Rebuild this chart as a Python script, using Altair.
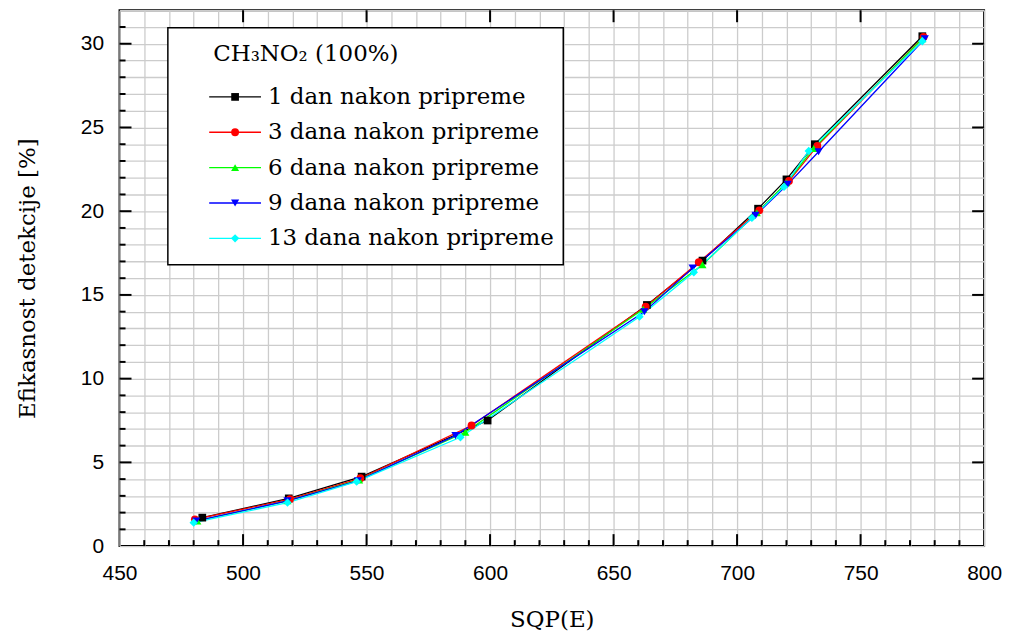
import altair as alt
import pandas as pd

series_names = ["1 dan nakon pripreme", "3 dana nakon pripreme", "6 dana nakon pripreme",
                "9 dana nakon pripreme", "13 dana nakon pripreme"]
series_colors = ["#000000", "#ff0000", "#00ff00", "#0000ff", "#00ffff"]
series_shapes = ["square", "circle", "triangle-up", "triangle-down", "diamond"]
series_sizes = [60, 70, 70, 70, 95]

x_1 = [483.5, 518.5, 548, 599, 663.5, 686, 708.5, 720, 731.5, 775]
y_1 = [1.7, 2.85, 4.15, 7.5, 14.4, 17.05, 20.15, 21.9, 24.0, 30.45]
x_3 = [480.5, 519, 547.5, 592.5, 663, 684.5, 709, 721, 732.5, 775.5]
y_3 = [1.6, 2.8, 4.05, 7.2, 14.3, 16.95, 20.05, 21.8, 23.9, 30.4]
x_6 = [481.5, 518, 547, 590, 662, 686, 708, 720, 731, 775]
y_6 = [1.5, 2.7, 3.95, 6.8, 14.15, 16.8, 19.9, 21.7, 23.75, 30.3]
x_9 = [481, 518, 546.5, 586, 662.5, 682, 707.5, 720.5, 733, 776]
y_9 = [1.5, 2.7, 3.9, 6.6, 14.0, 16.6, 19.75, 21.6, 23.55, 30.3]
x_13 = [480, 518, 546, 588, 660.5, 682.5, 706, 719, 729, 775]
y_13 = [1.4, 2.6, 3.85, 6.5, 13.7, 16.35, 19.6, 21.45, 23.6, 30.15]

x_grid = list(range(450, 801, 10))
y_grid = list(range(0, 33, 1))
x_ticks_minor = list(range(460, 800, 10))
x_ticks_major = [500, 550, 600, 650, 700, 750]
y_ticks_minor = list(range(1, 32))
y_ticks_major = [5, 10, 15, 20, 25, 30]

legend_title = "CH₃NO₂ (100%)"
x_title = "SQP(E)"
y_title = "Efikasnost detekcije [%]"

W, H = 868, 538
SERIF = "DejaVu Serif"

rows = []
for name, xs, ys in zip(series_names, [x_1, x_3, x_6, x_9, x_13], [y_1, y_3, y_6, y_9, y_13]):
    for i, (a, b) in enumerate(zip(xs, ys)):
        rows.append({"series": name, "x": a, "y": b, "i": i})
df = pd.DataFrame(rows)

xscale = alt.Scale(domain=[450, 800], nice=False, zero=False)
yscale = alt.Scale(domain=[0, 32], nice=False, zero=False)
cscale = alt.Scale(domain=series_names, range=series_colors)
sscale = alt.Scale(domain=series_names, range=series_shapes)
zscale = alt.Scale(domain=series_names, range=series_sizes)

xaxis = alt.Axis(values=x_grid,
                 labelExpr="datum.value % 50 == 0 ? datum.label : ''",
                 labelOverlap=False, labelFlush=False, labelBound=False,
                 ticks=False, domain=False, grid=True, labelPadding=17,
                 title=x_title, titleFont=SERIF, titleFontSize=23, titleFontWeight="normal",
                 titleX=W / 2, titleY=74, titleBaseline="middle", titleAlign="center")
yaxis = alt.Axis(values=y_grid,
                 labelExpr="datum.value % 5 == 0 ? datum.label : ''",
                 labelOverlap=False, labelFlush=False, labelBound=False,
                 ticks=False, domain=False, grid=True, labelPadding=16,
                 title=y_title, titleFont=SERIF, titleFontSize=23, titleFontWeight="normal",
                 titleX=-92, titleY=H / 2, titleAngle=270, titleBaseline="middle",
                 titleAlign="center")

lines = alt.Chart(df).mark_line(strokeWidth=1.3).encode(
    x=alt.X("x:Q", scale=xscale, axis=xaxis),
    y=alt.Y("y:Q", scale=yscale, axis=yaxis),
    color=alt.Color("series:N", scale=cscale, legend=None),
    order="i:Q",
)
points = alt.Chart(df).mark_point(filled=True, opacity=1).encode(
    x=alt.X("x:Q", scale=xscale, axis=xaxis),
    y=alt.Y("y:Q", scale=yscale, axis=yaxis),
    color=alt.Color("series:N", scale=cscale, legend=None),
    shape=alt.Shape("series:N", scale=sscale, legend=None),
    size=alt.Size("series:N", scale=zscale, legend=None),
)

# inward ticks
def xticks(vals, y0, y1):
    return alt.Chart(pd.DataFrame({"x": vals})).mark_rule(color="black", strokeWidth=2).encode(
        x=alt.X("x:Q", scale=xscale, axis=xaxis), y=alt.value(y0), y2=alt.value(y1))

def yticks(vals, x0, x1):
    return alt.Chart(pd.DataFrame({"y": vals})).mark_rule(color="black", strokeWidth=2).encode(
        y=alt.Y("y:Q", scale=yscale, axis=yaxis), x=alt.value(x0), x2=alt.value(x1))

tick_layers = [
    xticks([v for v in x_ticks_minor if v % 50], H, H - 6),
    xticks(x_ticks_major, H, H - 12),
    xticks(x_ticks_major, 0, 12),
    yticks([v for v in y_ticks_minor if v % 5], 0, 6),
    yticks(y_ticks_major, 0, 12),
    yticks(y_ticks_major, W, W - 12),
]

# legend
box = alt.Chart(pd.DataFrame({"a": [0]})).mark_rect(
    fill="white", stroke="black", strokeWidth=1.5).encode(
    x=alt.value(48.5), x2=alt.value(445.5), y=alt.value(17.5), y2=alt.value(255.5))
ltitle = alt.Chart(pd.DataFrame({"t": [legend_title]})).mark_text(
    font=SERIF, fontSize=23, align="left", baseline="middle", color="black").encode(
    text="t:N", x=alt.value(94), y=alt.value(44))

row_y = [87 + 35.5 * k for k in range(len(series_names))]
ldf = pd.DataFrame({"series": series_names, "ly": row_y,
                    "lx0": [90] * 5, "lx1": [142] * 5, "lm": [116] * 5, "lt": [149] * 5})
lrules = alt.Chart(ldf).mark_rule(strokeWidth=1.3).encode(
    x=alt.X("lx0:Q", scale=None), x2="lx1:Q", y=alt.Y("ly:Q", scale=None),
    color=alt.Color("series:N", scale=cscale, legend=None))
lpoints = alt.Chart(ldf).mark_point(filled=True, opacity=1).encode(
    x=alt.X("lm:Q", scale=None), y=alt.Y("ly:Q", scale=None),
    color=alt.Color("series:N", scale=cscale, legend=None),
    shape=alt.Shape("series:N", scale=sscale, legend=None),
    size=alt.Size("series:N", scale=zscale, legend=None))
ltext = alt.Chart(ldf).mark_text(font=SERIF, fontSize=23, align="left", baseline="middle",
                                 color="black").encode(
    x=alt.X("lt:Q", scale=None), y=alt.Y("ly:Q", scale=None),
    text="series:N")

chart = alt.layer(lines, points, *tick_layers, box, ltitle, lrules, lpoints, ltext).properties(
    width=W, height=H, autosize="none",
    padding={"left": 112, "top": 1, "right": 20, "bottom": 92},
).configure_view(stroke="black", strokeWidth=2).configure_axis(
    labelFont="Liberation Sans", labelFontSize=21, labelColor="black",
    gridColor="#cccccc", gridWidth=1.3, titleColor="black",
)

chart.save("out.html", embed_options={"renderer": "svg", "actions": False})
